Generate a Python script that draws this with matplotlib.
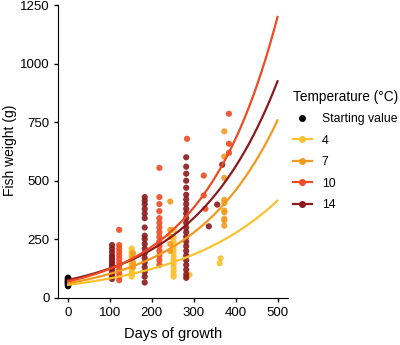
import numpy as np
import matplotlib
matplotlib.use("Agg")
import matplotlib.pyplot as plt
from matplotlib.lines import Line2D

plt.rcParams['font.family'] = ['Liberation Sans', 'DejaVu Sans']

# ---- data ----
temps = ["4", "7", "10", "14"]
colors = {"4": "#F9C22E", "7": "#F39A1E", "10": "#EE4B22", "14": "#8A1A1C"}

start_days = [0] * 13
start_weights = [50, 55, 58, 60, 62, 65, 68, 70, 72, 75, 78, 82, 85]

days_14 = [105]*14 + [183]*18 + [282]*24 + [336, 356, 368]
weights_14 = ([80, 90, 100, 110, 120, 130, 140, 150, 160, 170, 180, 195, 210, 225]
              + [65, 90, 110, 130, 150, 170, 190, 210, 230, 250, 265, 300, 340, 360, 380, 400, 415, 430]
              + [85, 100, 120, 140, 160, 180, 200, 220, 240, 260, 280, 300, 320, 340, 360, 380, 400, 420,
                 440, 470, 500, 530, 560, 600]
              + [305, 398, 568])

days_10 = [122]*12 + [218]*15 + [284, 324, 324, 328, 384, 384, 384]
weights_10 = ([75, 90, 105, 120, 135, 150, 165, 180, 195, 210, 225, 290]
              + [140, 160, 180, 200, 220, 240, 260, 280, 300, 320, 340, 370, 400, 430, 555]
              + [679, 522, 437, 380, 786, 658, 619])

days_7 = [155]*4 + [244]*5 + [373]*10
weights_7 = ([130, 150, 170, 190]
             + [200, 230, 260, 290, 411]
             + [711, 603, 512, 418, 372, 365, 337, 330, 308, 405])

days_4 = [152]*13 + [252]*13 + [283, 290, 364, 362]
weights_4 = ([90, 100, 110, 120, 130, 140, 150, 160, 170, 180, 190, 200, 210]
             + [90, 100, 115, 130, 145, 160, 175, 190, 205, 220, 240, 260, 290]
             + [88, 98, 168, 147])

# fitted exponential growth curves: weight at day 0 and day 500
fit_start = {"4": 55, "7": 62, "10": 70, "14": 76}
fit_end = {"4": 415, "7": 758, "10": 1200, "14": 925}

points = {"4": (days_4, weights_4), "7": (days_7, weights_7),
          "10": (days_10, weights_10), "14": (days_14, weights_14)}

# ---- plot ----
fig = plt.figure(figsize=(4.0, 3.45), dpi=100)
ax = fig.add_axes([0.145, 0.135, 0.575, 0.85])

for t in ["4", "7", "14", "10"]:
    d, w = points[t]
    ax.scatter(d, w, s=20, color=colors[t], edgecolors='none', alpha=0.9, zorder=2)

ax.scatter(start_days, start_weights, s=22, color='black', edgecolors='none', zorder=3)

tt = np.linspace(0, 500, 200)
for t in ["4", "7", "14", "10"]:
    a = fit_start[t]
    b = np.log(fit_end[t] / fit_start[t]) / 500.0
    ax.plot(tt, a * np.exp(b * tt), color=colors[t], lw=1.6, zorder=4)

ax.set_xlim(-24, 525)
ax.set_ylim(-3, 1250)
ax.set_xticks([0, 100, 200, 300, 400, 500])
ax.set_yticks([0, 250, 500, 750, 1000, 1250])
ax.spines['top'].set_visible(False)
ax.spines['right'].set_visible(False)
ax.tick_params(direction='out', length=3, width=1, labelsize=9.5, pad=3)
ax.set_xlabel("Days of growth", fontsize=10.5, labelpad=6)
fig.text(0.024, 0.565, "Fish weight (g)", fontsize=10, rotation=90,
         ha='center', va='center')

handles = [Line2D([0], [0], marker='o', color='black', lw=0, markersize=4)]
for t in temps:
    handles.append(Line2D([0], [0], marker='o', color=colors[t], lw=1.6, markersize=4))
labels = ["Starting value"] + temps
leg = fig.legend(handles, labels, title="Temperature (\u00b0C)", loc='upper left',
                 bbox_to_anchor=(0.71, 0.765), frameon=False, fontsize=8.8,
                 title_fontsize=9.8, handlelength=1.6, labelspacing=0.78,
                 handletextpad=0.8, borderaxespad=0.3)
leg._legend_box.align = "left"

fig.savefig("out.png", dpi=100)
